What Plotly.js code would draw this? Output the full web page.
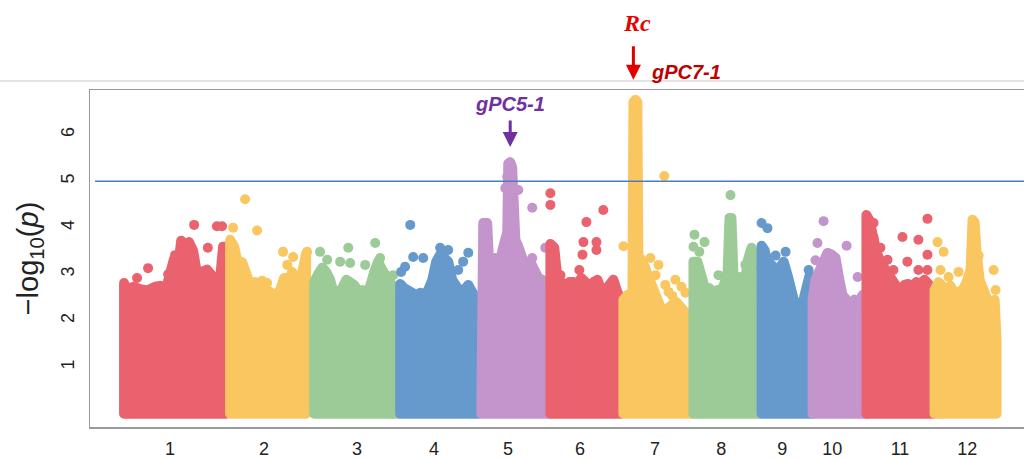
<!DOCTYPE html>
<html><head><meta charset="utf-8">
<script src="https://cdn.plot.ly/plotly-3.0.1.min.js"></script>
<style>
html,body{margin:0;padding:0;background:#fff;overflow:hidden}
#chart{width:1024px;height:460px}
path.js-line{stroke-linejoin:round;stroke-linecap:round}
</style></head><body><div id="chart"></div>
<script>
// chromosome names, lengths (Mb) and tick positions (cumulative Mb)
const chromosomes = ['1','2','3','4','5','6','7','8','9','10','11','12'];
const chromLengths = [43.3, 34.3, 35.1, 33.1, 28.2, 29.8, 28.6, 27.8, 20.8, 22.0, 27.8, 25.3];
const tickPositions = [18.8, 57.1, 95.1, 126.5, 156.7, 186.1, 216.7, 243.7, 268.6, 289.0, 316.7, 344.1];
const threshold = 5;
const palette = ['#EA626E', '#FAC65F', '#9CCB97', '#6699CC', '#C494CC'];

// upper envelope of the dense SNP cloud (position in chromosome, -log10 p)
const chr1Pos  = [0, 1.6, 3.7, 6.5, 9.4, 12.7, 14.7, 16.7, 18.8, 20.4, 22.0, 23.3, 24.9, 26.5, 28.2, 29.8, 31.8, 33.9, 35.9, 37.6, 39.2, 40.4, 41.6];
const chr1LogP = [2.81, 2.62, 2.73, 2.68, 2.65, 2.73, 2.75, 2.6, 2.94, 3.33, 3.1, 3.72, 3.4, 3.69, 3.5, 3.0, 3.05, 3.1, 2.97, 2.75, 2.9, 3.59, 3.59];
const chr2Pos  = [0, 1.6, 3.3, 4.9, 6.5, 8.2, 10.2, 12.2, 14.3, 16.3, 18.4, 20.4, 22.0, 23.7, 25.3, 26.9, 28.6, 30.2, 31.0];
const chr2LogP = [3.74, 3.6, 3.2, 3.26, 2.98, 2.77, 2.83, 2.77, 2.73, 2.62, 2.53, 2.66, 2.92, 2.83, 3.05, 2.66, 2.83, 3.35, 3.44];
const chr3Pos  = [0, 1.6, 3.3, 4.9, 6.5, 8.2, 9.8, 11.4, 13.1, 14.7, 16.3, 18.0, 19.6, 21.2, 22.9, 24.5, 26.1, 27.8, 29.4, 31.0, 32.6, 34.3];
const chr3LogP = [2.83, 3.0, 3.14, 3.05, 2.88, 2.53, 2.62, 2.7, 2.88, 2.83, 2.77, 2.62, 2.66, 2.6, 2.75, 3.05, 3.27, 3.09, 2.92, 2.77, 2.7, 2.66];
const chr4Pos  = [0, 1.6, 3.3, 4.9, 6.5, 8.2, 9.8, 11.4, 13.1, 14.7, 16.3, 18.0, 19.6, 21.2, 22.9, 24.5, 26.1, 27.8, 29.4, 31.0, 32.2];
const chr4LogP = [2.79, 2.7, 2.66, 2.62, 2.55, 2.6, 2.55, 2.66, 2.88, 3.27, 3.42, 3.35, 3.27, 2.88, 2.7, 2.62, 2.66, 2.77, 2.62, 2.45, 2.34];
const chr5Pos  = [0, 0.8, 2.4, 3.3, 5.7, 7.3, 9.0, 10.6, 11.0, 11.8, 12.6, 13.1, 13.9, 15.1, 16.7, 18.4, 20.0, 21.6, 23.3, 24.9, 26.5, 27.8];
const chr5LogP = [3.09, 4.1, 4.1, 3.13, 3.27, 3.2, 3.6, 3.9, 5.38, 5.41, 5.3, 4.4, 3.74, 3.6, 3.27, 3.09, 3.27, 3.09, 2.92, 2.88, 2.77, 2.66];
const chr6Pos  = [0, 1.6, 2.9, 4.5, 6.1, 7.8, 9.4, 11.0, 12.6, 14.3, 15.9, 17.6, 19.2, 20.8, 22.4, 24.1, 25.7, 27.3, 29.0];
const chr6LogP = [3.65, 3.57, 2.88, 2.83, 2.62, 2.83, 2.83, 2.77, 2.92, 2.83, 2.7, 2.83, 2.88, 2.66, 2.62, 2.77, 2.88, 2.62, 2.45];
const chr7Pos  = [0, 1.6, 3.7, 4.1, 4.9, 5.7, 6.1, 7.8, 9.0, 10.2, 11.8, 13.5, 15.1, 16.7, 18.4, 20.0, 21.6, 23.3, 24.9, 26.5, 28.2];
const chr7LogP = [2.45, 2.55, 2.6, 6.7, 6.75, 6.7, 3.4, 3.27, 3.1, 3.0, 2.7, 2.5, 2.3, 2.2, 2.3, 2.35, 2.4, 2.3, 2.2, 2.1, 2.0];
const chr8Pos  = [0, 1.6, 3.3, 4.9, 6.5, 8.2, 9.8, 11.4, 13.1, 13.9, 14.7, 15.5, 16.3, 17.5, 18.8, 20.4, 22.0, 23.7, 25.3, 26.9];
const chr8LogP = [3.27, 3.27, 2.83, 2.66, 2.7, 2.55, 2.66, 2.62, 2.88, 3.0, 4.21, 4.21, 3.0, 2.77, 2.45, 2.45, 3.27, 3.57, 3.35, 2.66];
const chr9Pos  = [0, 1.2, 2.4, 4.1, 5.7, 7.3, 9.0, 10.6, 12.2, 13.9, 15.5, 17.1, 18.4, 19.6, 20.8];
const chr9LogP = [3.61, 3.52, 3.27, 3.2, 3.09, 3.13, 3.27, 2.98, 2.66, 2.23, 1.96, 2.45, 2.77, 2.98, 2.66];
const chr10Pos  = [0, 1.2, 2.9, 4.5, 6.1, 7.8, 9.4, 10.6, 12.2, 13.9, 15.5, 17.1, 18.8, 20.4, 22.0];
const chr10LogP = [2.45, 2.88, 3.09, 3.35, 3.46, 3.42, 3.35, 2.98, 2.55, 2.45, 2.34, 2.45, 2.4, 2.55, 2.45];
const chr11Pos  = [0, 1.2, 2.4, 4.1, 5.7, 7.3, 9.0, 10.6, 12.2, 13.9, 15.5, 17.1, 18.8, 20.4, 22.0, 23.7, 25.3, 26.9, 27.8];
const chr11LogP = [4.27, 4.16, 3.74, 3.48, 3.27, 3.13, 2.98, 2.83, 2.66, 2.6, 2.77, 2.79, 2.75, 2.83, 2.79, 2.88, 2.79, 2.55, 2.45];
const chr12Pos  = [0, 1.6, 3.3, 4.9, 6.5, 8.2, 9.8, 11.4, 13.1, 14.7, 15.5, 16.3, 17.1, 18.4, 20.0, 21.6, 23.3, 24.5, 25.3];
const chr12LogP = [2.66, 2.83, 2.77, 2.66, 2.75, 2.55, 2.62, 2.66, 2.83, 3.1, 4.17, 4.12, 3.5, 2.88, 2.66, 2.45, 2.23, 2.45, 1.59];

// isolated SNPs above the cloud
const chr1TopPos  = [5.3, 9.8, 18.0, 20.8, 28.6, 34.2, 37.9, 40.0];
const chr1TopLogP = [2.92, 3.13, 3.0, 3.41, 4.06, 3.57, 4.03, 4.03];
const chr2TopPos  = [1.2, 6.1, 11.0, 21.6, 25.7, 13.1, 15.1, 31.4, 23.3];
const chr2TopLogP = [4.0, 4.61, 3.94, 3.48, 3.37, 2.86, 2.81, 3.48, 3.2];
const chr3TopPos  = [2.4, 5.3, 13.9, 10.6, 14.7, 24.9, 26.9, 20.8, 32.2];
const chr3TopLogP = [3.48, 3.31, 3.57, 3.27, 3.24, 3.67, 3.35, 3.2, 2.98];
const chr4TopPos  = [4.1, 5.3, 9.4, 2.0, 0.4, 16.3, 19.6, 27.8, 25.7, 23.7];
const chr4TopLogP = [4.06, 3.37, 3.35, 3.16, 3.05, 3.57, 3.52, 3.46, 3.27, 3.09];
const chr5TopPos  = [15.1, 20.8, 26.1, 5.7, 20.8, 9.8, 10.6];
const chr5TopLogP = [4.81, 4.43, 3.57, 3.35, 3.35, 4.85, 5.1];
const chr6TopPos  = [0, 0, 21.6, 14.7, 13.5, 18.8, 13.1, 18.8, 11.8, 4.1];
const chr6TopLogP = [4.74, 4.49, 4.38, 4.12, 3.69, 3.69, 3.42, 3.52, 3.09, 2.98];
const chr7TopPos  = [16.7, 0, 11.0, 14.3, 9.0, 13.1, 17.1, 18.4, 21.2, 23.7, 25.3, 20.0];
const chr7TopLogP = [5.11, 3.6, 3.35, 3.2, 3.13, 2.98, 2.77, 2.62, 2.88, 2.73, 2.6, 2.53];
const chr8TopPos  = [15.1, 0.4, 0, 4.5, 2.4, 10.2, 19.2, 21.2];
const chr8TopLogP = [4.7, 3.85, 3.59, 3.69, 3.48, 2.98, 2.94, 3.2];
const chr9TopPos  = [0, 2.4, 9.8, 0, 2.9, 19.2, 5.7];
const chr9TopLogP = [4.1, 3.99, 3.48, 3.13, 3.05, 3.09, 3.4];
const chr10TopPos  = [4.5, 13.9, 2.0, 18.4, 1.2];
const chr10TopLogP = [4.14, 3.61, 3.67, 2.94, 3.3];
const chr11TopPos  = [2.9, 14.7, 21.2, 24.9, 24.9, 16.7, 21.2, 24.9, 5.7, 2.9, 11.0, 8.6];
const chr11TopLogP = [4.1, 3.8, 3.74, 4.19, 3.42, 3.27, 3.09, 3.09, 3.57, 3.78, 3.09, 3.31];
const chr12TopPos  = [1.2, 3.7, 2.4, 5.7, 9.8, 24.1, 24.9, 18.0];
const chr12TopLogP = [3.69, 3.48, 3.09, 2.94, 3.05, 3.09, 2.66, 3.4];

const envPos  = [chr1Pos, chr2Pos, chr3Pos, chr4Pos, chr5Pos, chr6Pos, chr7Pos, chr8Pos, chr9Pos, chr10Pos, chr11Pos, chr12Pos];
const envLogP = [chr1LogP, chr2LogP, chr3LogP, chr4LogP, chr5LogP, chr6LogP, chr7LogP, chr8LogP, chr9LogP, chr10LogP, chr11LogP, chr12LogP];
const topPos  = [chr1TopPos, chr2TopPos, chr3TopPos, chr4TopPos, chr5TopPos, chr6TopPos, chr7TopPos, chr8TopPos, chr9TopPos, chr10TopPos, chr11TopPos, chr12TopPos];
const topLogP = [chr1TopLogP, chr2TopLogP, chr3TopLogP, chr4TopLogP, chr5TopLogP, chr6TopLogP, chr7TopLogP, chr8TopLogP, chr9TopLogP, chr10TopLogP, chr11TopLogP, chr12TopLogP];

const offsets = [];
let acc = 0;
chromLengths.forEach(l => { offsets.push(acc); acc += l; });

const traces = [];
chromosomes.forEach((c, i) => {
  const col = palette[i % palette.length];
  const off = offsets[i];
  const xs = envPos[i].map(p => p + off);
  const ys = envLogP[i].slice();
  const px = [xs[0]].concat(xs, [xs[xs.length - 1], xs[0]]);
  const py = [0].concat(ys, [0, 0]);
  traces.push({
    type: 'scatter', mode: 'lines', x: px, y: py, fill: 'toself', fillcolor: col,
    line: {color: col, width: 10}, hoverinfo: 'skip', name: 'chr' + c
  });
  traces.push({
    type: 'scatter', mode: 'markers', x: topPos[i].map(p => p + off), y: topLogP[i],
    marker: {color: col, size: 10}, hoverinfo: 'skip', name: 'chr' + c + ' top'
  });
});

function peak(i) {
  const ys = envLogP[i];
  let k = 0;
  ys.forEach((v, j) => { if (v > ys[k]) k = j; });
  return {x: envPos[i][k] + offsets[i], y: ys[k]};
}
const p5 = peak(4), p7 = peak(6);

const layout = {
  width: 1024, height: 460,
  margin: {l: 90, r: 0, t: 90, b: 33},
  paper_bgcolor: '#ffffff', plot_bgcolor: '#ffffff',
  showlegend: false,
  font: {family: 'Liberation Sans, Arial, sans-serif', color: '#222'},
  xaxis: {
    range: [-13.9, 367.3], showgrid: false, zeroline: false,
    showline: true, mirror: true, linecolor: '#9a9a9a', linewidth: 1.5,
    ticks: '', tickvals: tickPositions, ticktext: chromosomes,
    tickfont: {size: 18, color: '#222'}, ticklabelstandoff: 5
  },
  yaxis: {
    range: [-0.284, 6.959], showgrid: false, zeroline: false,
    showline: true, mirror: false, linecolor: '#9a9a9a', linewidth: 1.5,
    ticks: '', tickvals: [1, 2, 3, 4, 5, 6], tickangle: -90,
    tickfont: {size: 18, color: '#222'}, ticklabelstandoff: 7,
    title: {text: '\u00a0\u00a0\u2212log<sub>10</sub>(<i>p</i>)', font: {size: 29, color: '#222'}, standoff: 11}
  },
  shapes: [
    {type: 'line', xref: 'paper', yref: 'y', x0: 0.0054, x1: 1, y0: threshold, y1: threshold,
     line: {color: '#4a7ebb', width: 1.5}},
    {type: 'line', xref: 'paper', yref: 'paper', x0: -0.1, x1: 1.01, y0: 1.0267, y1: 1.0267,
     line: {color: '#c8c8c8', width: 1}}
  ],
  annotations: [
    {x: p5.x, y: p5.y, xref: 'x', yref: 'y', text: '', showarrow: true, arrowhead: 2, arrowsize: 1,
     arrowwidth: 3, arrowcolor: '#7030a0', ax: 0, ay: -43, standoff: 15},
    {x: p5.x, y: p5.y, xref: 'x', yref: 'y', text: '<b><i>gPC5-1</i></b>', showarrow: false,
     yshift: 58, font: {color: '#7030a0', size: 20}},
    {x: p7.x, y: p7.y, xref: 'x', yref: 'y', text: '', showarrow: true, arrowhead: 2, arrowsize: 1,
     arrowwidth: 3, arrowcolor: '#e00000', ax: 0, ay: -55, standoff: 20, xshift: -2},
    {x: p7.x, y: p7.y, xref: 'x', yref: 'y', text: '<b><i>Rc</i></b>', showarrow: false,
     xshift: 2, yshift: 77, font: {color: '#e60000', size: 24, family: 'Liberation Serif, Times New Roman, serif'}},
    {x: p7.x, y: p7.y, xref: 'x', yref: 'y', text: '<b><i>gPC7-1</i></b>', showarrow: false,
     xanchor: 'left', xshift: 14, yshift: 28, font: {color: '#c00000', size: 20}}
  ]
};

Plotly.newPlot('chart', traces, layout, {displayModeBar: false, staticPlot: true});
</script></body></html>
